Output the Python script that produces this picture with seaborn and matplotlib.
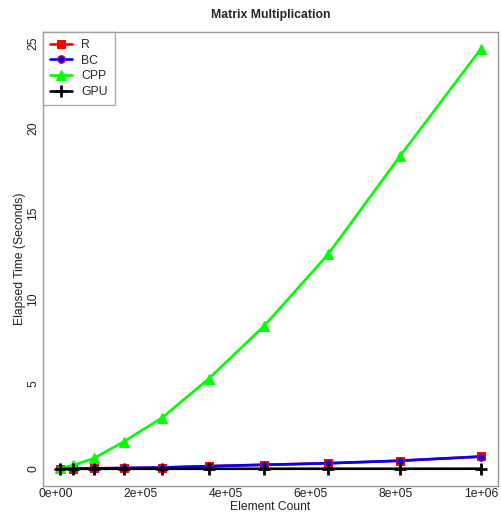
import matplotlib
matplotlib.use("Agg")
import matplotlib.pyplot as plt
import seaborn as sns
import pandas as pd

sns.set_theme(style="white")
plt.rcParams['font.family'] = ['Liberation Sans', 'DejaVu Sans']

element_count = [1e4, 4e4, 9e4, 1.6e5, 2.5e5, 3.6e5, 4.9e5, 6.4e5, 8.1e5, 1e6]
r_time = [0.01, 0.02, 0.03, 0.05, 0.08, 0.16, 0.24, 0.33, 0.48, 0.73]
bc_time = [0.01, 0.02, 0.03, 0.05, 0.08, 0.16, 0.24, 0.33, 0.48, 0.72]
cpp_time = [0.03, 0.2, 0.62, 1.6, 3.0, 5.3, 8.4, 12.6, 18.4, 24.7]
gpu_time = [0.005, 0.005, 0.005, 0.006, 0.006, 0.007, 0.007, 0.008, 0.008, 0.009]

series_names = ["R", "BC", "CPP", "GPU"]
colors = {"R": "#ff0000", "BC": "#0000ff", "CPP": "#00ff00", "GPU": "#000000"}
markers = {"R": "s", "BC": "o", "CPP": "^", "GPU": "+"}

df = pd.DataFrame({
    "Element Count": element_count * 4,
    "Elapsed": r_time + bc_time + cpp_time + gpu_time,
    "Series": sum([[n] * len(element_count) for n in series_names], []),
})

fig = plt.figure(figsize=(5.01, 5.20), dpi=100)
ax = fig.add_axes([43 / 501, (520 - 485.7) / 520, (498 - 43) / 501, (485.7 - 31.7) / 520])

msize = {"R": 6, "BC": 5.5, "CPP": 7, "GPU": 9}
for name in series_names:
    sub = df[df["Series"] == name]
    kw = dict(marker=markers[name], markersize=msize[name], linewidth=1.9,
              color=colors[name], markeredgecolor=colors[name])
    if name == "GPU":
        kw["markeredgewidth"] = 2.0
    if name == "BC":
        kw["markeredgecolor"] = "#ff0000"
        kw["markeredgewidth"] = 0.8
    sns.lineplot(data=sub, x="Element Count", y="Elapsed", ax=ax, label=name,
                 estimator=None, sort=False, **kw)

xr = max(element_count) - min(element_count)
ax.set_xlim(min(element_count) - 0.04 * xr, max(element_count) + 0.04 * xr)
ax.set_ylim(-0.04 * 24.7, 24.7 * 1.04)

xt = [0, 2e5, 4e5, 6e5, 8e5, 1e6]
xtl = ["0e+00", "2e+05", "4e+05", "6e+05", "8e+05", "1e+06"]
yt = [0, 5, 10, 15, 20, 25]
ax.set_xticks(xt)
ax.set_xticklabels(xtl)
ax.set_yticks(yt)
ax.set_yticklabels([str(v) for v in yt], rotation=90, va="center")

for s in ax.spines.values():
    s.set_color("#999999")
    s.set_linewidth(1.0)
ax.tick_params(axis="x", length=0, labelsize=8.7, labelcolor="#222222", pad=1.5)
ax.tick_params(axis="y", length=0, labelsize=8.7, labelcolor="#222222", pad=2.5)

ax.set_xlabel("Element Count", fontsize=8.7, color="#222222", labelpad=1)
ax.set_ylabel("Elapsed Time (Seconds)", fontsize=8.7, color="#222222", labelpad=1)
ax.set_title("Matrix Multiplication", fontsize=8.8, fontweight="bold", pad=10)

leg = ax.legend(loc="upper left", bbox_to_anchor=(0, 1), borderaxespad=0, frameon=True,
                fancybox=False, fontsize=8.8, handlelength=1.8, handletextpad=0.7,
                labelspacing=0.3, borderpad=0.6)
leg.get_frame().set_edgecolor("#999999")
leg.get_frame().set_linewidth(1.0)

fig.savefig("out.png", dpi=100)
